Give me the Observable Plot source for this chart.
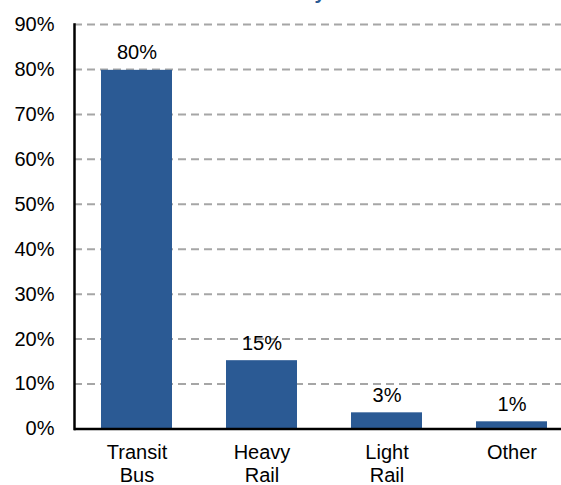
<!DOCTYPE html>
<html>
<head>
<meta charset="utf-8">
<script src="https://cdn.jsdelivr.net/npm/d3@7"></script>
<script src="https://cdn.jsdelivr.net/npm/@observablehq/plot@0.6"></script>
<style>
  html, body { margin: 0; padding: 0; overflow: hidden; background: #fff; width: 561px; height: 485px; }
  body { position: relative; font-family: "Liberation Sans", Arial, sans-serif; }
  #wrap { position: relative; width: 561px; height: 485px; overflow: hidden; }
  #title { position: absolute; top: -18px; left: 0; white-space: nowrap; font: bold 20px "Liberation Sans", Arial, sans-serif; line-height: 20px; color: #2B5A94; z-index: 2; }
  #chart { position: absolute; top: 0; left: 0; width: 561px; height: 485px; overflow: hidden; }
</style>
</head>
<body>
<div id="wrap">
<div id="title"><span id="pre">Share of Fleet b</span><span id="ych">y</span> Mode</div>
<div id="chart"></div>
</div>
<script>
const categories = ["Transit\nBus", "Heavy\nRail", "Light\nRail", "Other"];
const shares = [79.8, 15.2, 3.6, 1.6];
const shareLabels = ["80%", "15%", "3%", "1%"];
const yTicks = [0, 10, 20, 30, 40, 50, 60, 70, 80, 90];

const data = categories.map((c, i) => ({category: c, share: shares[i], label: shareLabels[i]}));

const barColor = "#2B5A94";

const chart = Plot.plot({
  width: 561,
  height: 485,
  marginLeft: 74,
  marginRight: -14,
  marginTop: 24,
  marginBottom: 56.5,
  style: {fontSize: "20px", fontFamily: "'Liberation Sans', Arial, sans-serif", color: "black", background: "white", overflow: "hidden"},
  x: {domain: categories, paddingInner: 0.43, paddingOuter: 0.215},
  y: {domain: [0, 90]},
  marks: [
    Plot.gridY(yTicks, {stroke: "#a6a6a6", strokeOpacity: 1, strokeWidth: 2, strokeDasharray: "8,5"}),
    Plot.barY(data, {x: "category", y: "share", fill: barColor}),
    Plot.text(data, {x: "category", y: "share", text: "label", lineAnchor: "bottom", dy: -11, fill: "black", fontSize: 20}),
    Plot.axisY(yTicks, {tickSize: 0, tickPadding: 20, tickFormat: d => d + "%", fontSize: 20, label: null, fill: "black"}),
    Plot.axisX({tickSize: 0, tickPadding: 14, fontSize: 20, lineHeight: 1.15, label: null, fill: "black"}),
    Plot.frame({anchor: "left", stroke: "black", strokeWidth: 2.5}),
    Plot.ruleY([0], {stroke: "black", strokeWidth: 2.5})
  ]
});
document.getElementById("chart").appendChild(chart);

// place the (clipped) title so its "y" sits where the reference shows it
const pre = document.getElementById("pre");
const ych = document.getElementById("ych");
const title = document.getElementById("title");
title.style.left = (320 - pre.offsetWidth - ych.offsetWidth / 2) + "px";
</script>
</body>
</html>
